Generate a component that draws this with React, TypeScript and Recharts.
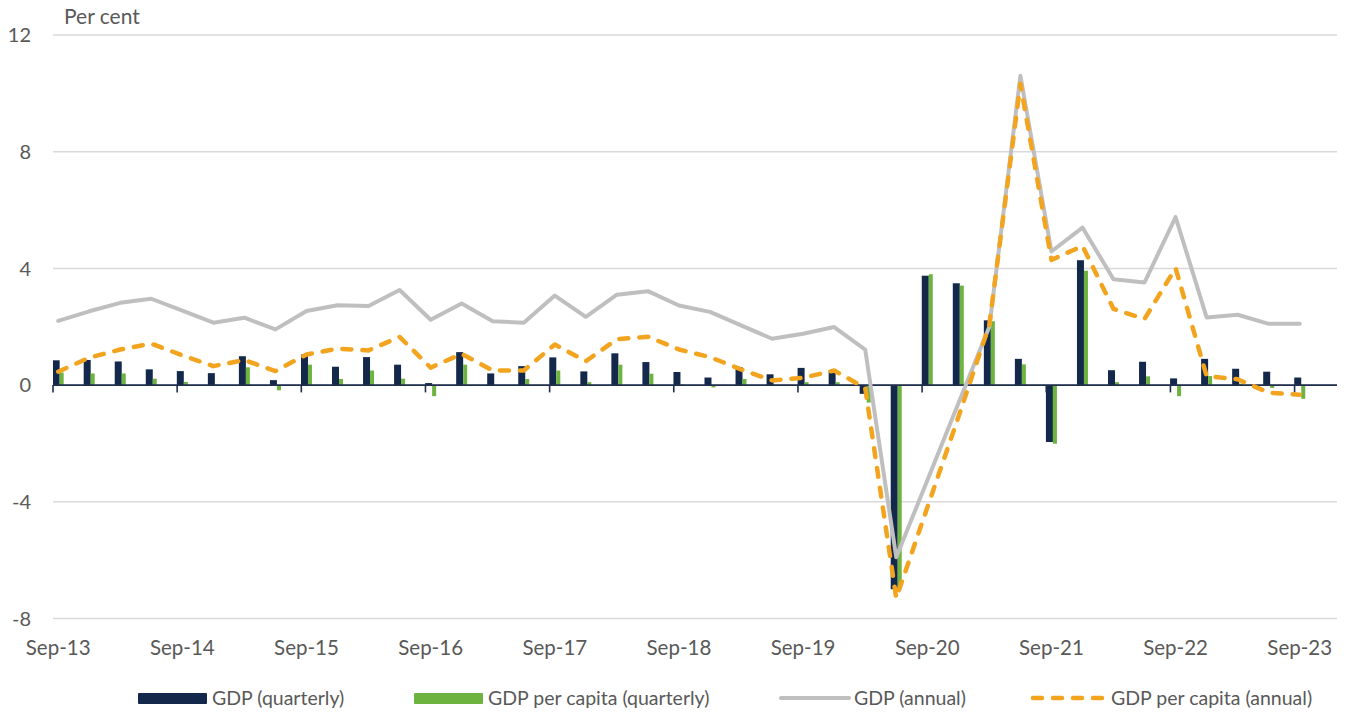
import React from 'react';
import { ComposedChart, Bar, Line, XAxis, YAxis, CartesianGrid, ReferenceLine } from 'recharts';

const quarters = [
  'Sep-13', 'Dec-13', 'Mar-14', 'Jun-14', 'Sep-14', 'Dec-14', 'Mar-15', 'Jun-15',
  'Sep-15', 'Dec-15', 'Mar-16', 'Jun-16', 'Sep-16', 'Dec-16', 'Mar-17', 'Jun-17',
  'Sep-17', 'Dec-17', 'Mar-18', 'Jun-18', 'Sep-18', 'Dec-18', 'Mar-19', 'Jun-19',
  'Sep-19', 'Dec-19', 'Mar-20', 'Jun-20', 'Sep-20', 'Dec-20', 'Mar-21', 'Jun-21',
  'Sep-21', 'Dec-21', 'Mar-22', 'Jun-22', 'Sep-22', 'Dec-22', 'Mar-23', 'Jun-23',
  'Sep-23',
];

const gdpQuarterly = [
  0.85, 0.86, 0.81, 0.54, 0.48, 0.41, 0.99, 0.17,
  1.05, 0.63, 0.96, 0.70, 0.07, 1.13, 0.40, 0.65,
  0.95, 0.47, 1.09, 0.79, 0.45, 0.26, 0.62, 0.37,
  0.59, 0.51, -0.3, -7.0, 3.75, 3.49, 2.22, 0.90,
  -1.95, 4.28, 0.51, 0.80, 0.23, 0.90, 0.56, 0.46,
  0.26,
];

const gdpPerCapitaQuarterly = [
  0.43, 0.40, 0.40, 0.22, 0.11, 0.02, 0.61, -0.18,
  0.70, 0.21, 0.50, 0.22, -0.38, 0.70, 0.01, 0.21,
  0.50, 0.10, 0.70, 0.39, 0.02, -0.08, 0.21, 0.01,
  0.10, 0.10, -0.6, -6.9, 3.80, 3.41, 2.19, 0.71,
  -2.01, 3.92, 0.10, 0.30, -0.38, 0.31, 0.05, -0.10,
  -0.47,
];

const gdpAnnual = [
  2.20, 2.53, 2.82, 2.96, 2.55, 2.14, 2.31, 1.91,
  2.54, 2.74, 2.71, 3.26, 2.24, 2.80, 2.19, 2.14,
  3.07, 2.34, 3.10, 3.22, 2.73, 2.51, 2.05, 1.59,
  1.76, 1.99, 1.22, -5.9, -3.27, -0.63, 2.0, 10.6,
  4.58, 5.40, 3.63, 3.52, 5.76, 2.32, 2.41, 2.10,
  2.10,
];

const gdpPerCapitaAnnual = [
  0.46, 0.94, 1.22, 1.42, 1.02, 0.65, 0.86, 0.48,
  1.05, 1.25, 1.19, 1.65, 0.60, 1.07, 0.50, 0.50,
  1.39, 0.82, 1.57, 1.66, 1.22, 0.96, 0.54, 0.16,
  0.25, 0.50, -0.10, -7.3, -4.2, -1.1, 2.07, 10.33,
  4.29, 4.77, 2.61, 2.27, 4.01, 0.31, 0.20, -0.26,
  -0.33,
];

const yTicks = [-8, -4, 0, 4, 8, 12];
const xLabelIndices = [0, 4, 8, 12, 16, 20, 24, 28, 32, 36, 40];

const data = quarters.map((label, i) => ({
  i,
  label,
  gdpQ: gdpQuarterly[i],
  gdpPcQ: gdpPerCapitaQuarterly[i],
  gdpA: gdpAnnual[i],
  gdpPcA: gdpPerCapitaAnnual[i],
}));

const NAVY = '#13284A';
const GREEN = '#6CB33F';
const GREY = '#BFBFBF';
const ORANGE = '#F3A41E';
const TEXT = '#595959';
const FONT = 'Lato, "Open Sans", sans-serif';
const HALF_MONTH = 1 / 6;

const legendItems = [
  { name: 'GDP (quarterly)', kind: 'navy', left: 129 },
  { name: 'GDP per capita (quarterly)', kind: 'green', left: 405 },
  { name: 'GDP (annual)', kind: 'grey', left: 771 },
  { name: 'GDP per capita (annual)', kind: 'orange', left: 1022 },
];

function Swatch({ kind }: { kind: string }) {
  if (kind === 'navy' || kind === 'green') {
    return (
      <svg width={72} height={14} style={{ display: 'block' }}>
        <rect x={1} y={2} width={69} height={11} fill={kind === 'navy' ? NAVY : GREEN} rx={1} />
      </svg>
    );
  }
  if (kind === 'grey') {
    return (
      <svg width={72} height={14} style={{ display: 'block' }}>
        <line x1={2} y1={7} x2={70} y2={7} stroke={GREY} strokeWidth={4} strokeLinecap="round" />
      </svg>
    );
  }
  return (
    <svg width={78} height={14} style={{ display: 'block' }}>
      <line x1={3} y1={7} x2={76} y2={7} stroke={ORANGE} strokeWidth={4.5} strokeLinecap="round" strokeDasharray="9 11" />
    </svg>
  );
}

export default function App() {
  return (
    <div style={{ position: 'relative', width: 1343, height: 707, fontFamily: FONT }}>
      <div
        style={{
          position: 'absolute',
          left: 56,
          top: -5,
          fontSize: 21,
          color: TEXT,
          fontFamily: FONT,
        }}
      >
        Per cent
      </div>
      <ComposedChart
        width={1343}
        height={665}
        data={data}
        margin={{ top: 27, right: 14, bottom: 4.5, left: 0 }}
        barGap={0}
        style={{ overflow: 'visible' }}
      >
        <CartesianGrid horizontal vertical={false} stroke="#D9D9D9" strokeWidth={1.5} />
        <XAxis
          dataKey="i"
          type="number"
          domain={[-HALF_MONTH, 41.2]}
          ticks={xLabelIndices}
          tickFormatter={(v: number) => quarters[v]}
          axisLine={false}
          tickLine={false}
          tickSize={0}
          tickMargin={22}
          height={50}
          interval={0}
          allowDataOverflow
          tick={{ fill: TEXT, fontSize: 20.5, fontFamily: FONT }}
        />
        <YAxis
          type="number"
          domain={[-8, 12]}
          ticks={yTicks}
          width={45}
          axisLine={false}
          tickLine={false}
          tickSize={6}
          tickMargin={16}
          interval={0}
          allowDataOverflow
          tick={{ fill: TEXT, fontSize: 20, fontFamily: FONT }}
        />
        <Bar dataKey="gdpQ" fill={NAVY} barSize={7} isAnimationActive={false} />
        <Bar dataKey="gdpPcQ" fill={GREEN} barSize={4} isAnimationActive={false} />
        <ReferenceLine y={0} stroke="#1F2F4D" strokeWidth={1.6} />
        {xLabelIndices.map((t) => (
          <ReferenceLine
            key={t}
            segment={[
              { x: t - HALF_MONTH, y: 0 },
              { x: t - HALF_MONTH, y: -0.25 },
            ]}
            stroke="#1F2F4D"
            strokeWidth={1.6}
          />
        ))}
        <Line
          dataKey="gdpA"
          type="linear"
          stroke={GREY}
          strokeWidth={4}
          strokeLinecap="round"
          strokeLinejoin="round"
          dot={false}
          activeDot={false}
          isAnimationActive={false}
        />
        <Line
          dataKey="gdpPcA"
          type="linear"
          stroke={ORANGE}
          strokeWidth={4.5}
          strokeDasharray="9 11"
          strokeLinecap="round"
          strokeLinejoin="round"
          dot={false}
          activeDot={false}
          isAnimationActive={false}
        />
      </ComposedChart>
      {legendItems.map((it) => (
        <div
          key={it.name}
          style={{
            position: 'absolute',
            left: it.left,
            top: 678,
            display: 'flex',
            alignItems: 'center',
            gap: 3,
            fontSize: 19.5,
            color: TEXT,
            fontFamily: FONT,
            whiteSpace: 'nowrap',
          }}
        >
          <Swatch kind={it.kind} />
          <span>{it.name}</span>
        </div>
      ))}
    </div>
  );
}
